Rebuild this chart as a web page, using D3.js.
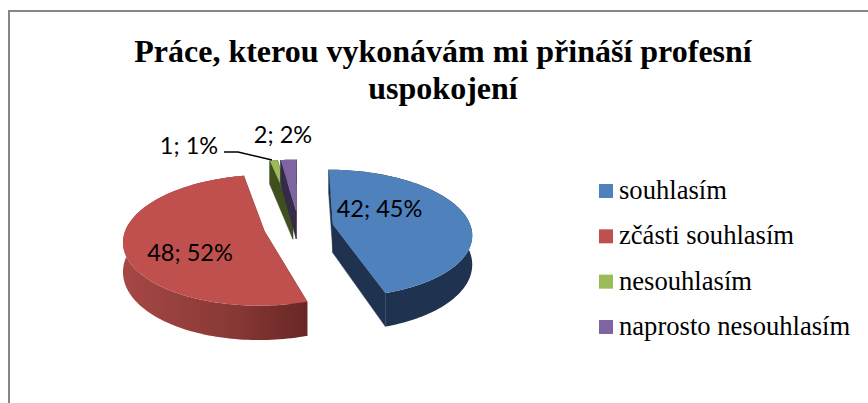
<!DOCTYPE html>
<html><head><meta charset="utf-8">
<script src="https://cdn.jsdelivr.net/npm/d3@7"></script>
<style>html,body{margin:0;padding:0;background:#fff;overflow:hidden}svg{display:block}</style>
</head><body><svg id="c" width="868" height="403"></svg>
<script>
const titleLines = ["Práce, kterou vykonávám mi přináší profesní", "uspokojení"];
const categories = ["souhlasím", "zčásti souhlasím", "nesouhlasím", "naprosto nesouhlasím"];
const values = [42, 48, 1, 2];
const percents = [45, 52, 1, 2];
const topColors = ["#4f81bd", "#c0504d", "#9bbb59", "#8064a2"];
const sideColors = ["#1f3350", "#7a2f2d", "#3f4f20", "#352a47"];

const svg = d3.select("#c");
const W = 868, H = 403;
const cx = 298.5, cy = 227, R = 138, explode = 35, tilt = 0.457, persp = 0.001, depth = 28.5;

// frame
svg.append("path").attr("d", `M9,${H}V11H${W}`).attr("fill", "none").attr("stroke", "#868686").attr("stroke-width", 2);

// title
const title = svg.append("g").attr("font-family", "'Liberation Serif'").attr("font-weight", "bold")
  .attr("font-size", 32).attr("text-anchor", "middle").attr("fill", "#000");
titleLines.forEach((t, i) => title.append("text").attr("x", 443).attr("y", 62 + i * 37).text(t));

// ground-plane projection with mild perspective
const project = (u, v, drop = 0) => {
  const s = 1 / (1 - v * persp);
  return [cx + u * s, cy + v * tilt * s + drop * depth * Math.pow(s, 1.2)];
};
const pie = d3.pie().sort(null).value(d => d)(values);
const polar = (a, r, m) => {
  const e = explode;
  return [Math.sin(m) * e + Math.sin(a) * r, -Math.cos(m) * e - Math.cos(a) * r];
};
const line = d3.line();

const defs = svg.append("defs");
const grad = defs.append("linearGradient").attr("id", "redWall").attr("gradientUnits", "userSpaceOnUse")
  .attr("x1", project(-175, 0)[0]).attr("x2", project(45, 125)[0]).attr("y1", 0).attr("y2", 0);
grad.append("stop").attr("offset", 0).attr("stop-color", "#a64744");
grad.append("stop").attr("offset", 0.5).attr("stop-color", "#863835");
grad.append("stop").attr("offset", 1).attr("stop-color", "#561d1a");

const pieG = svg.append("g");
const order = [2, 3, 0, 1];
order.forEach(i => {
  const d = pie[i];
  const m = (d.startAngle + d.endAngle) / 2;
  const n = Math.max(4, Math.ceil((d.endAngle - d.startAngle) * 40));
  const angles = d3.range(n + 1).map(k => d.startAngle + (d.endAngle - d.startAngle) * k / n);
  const rim = angles.map(a => polar(a, R, m));
  const apex = polar(0, 0, m);
  const fill = i === 1 ? "url(#redWall)" : sideColors[i];
  const drop = pts => pts.map(p => project(p[0], p[1], 1));
  const flat = pts => pts.map(p => project(p[0], p[1], 0));
  // cut walls
  [rim[0], rim[n]].forEach(p => {
    const q = [apex, p];
    pieG.append("path").attr("d", line(flat(q).concat(drop(q).reverse())) + "Z").attr("fill", sideColors[i]).attr("stroke", sideColors[i]).attr("stroke-width", .5);
  });
  // outer wall
  pieG.append("path").attr("d", line(flat(rim).concat(drop(rim).reverse())) + "Z").attr("fill", fill);
  // top
  pieG.append("path").attr("d", line(flat([apex, ...rim])) + "Z").attr("fill", topColors[i]);
});

// leader line
svg.append("path").attr("d", "M224,152H238L272,160").attr("fill", "none").attr("stroke", "#000").attr("stroke-width", 1.3);

// data labels
const labelSpots = [[379.5, 217], [190, 261], [189, 154], [283, 143]];
svg.append("g").selectAll("text").data(values).join("text")
  .attr("x", (d, i) => labelSpots[i][0]).attr("y", (d, i) => labelSpots[i][1])
  .attr("text-anchor", "middle").attr("font-family", "Lato").attr("font-size", 23.5).attr("fill", "#000")
  .text((d, i) => `${d}; ${percents[i]}%`);

// legend
const legendY = d3.scalePoint().domain(categories).range([199, 335]);
const legend = svg.append("g").selectAll("g").data(categories).join("g");
legend.append("rect").attr("x", 599).attr("y", d => legendY(d) - 15).attr("width", 14).attr("height", 14)
  .attr("fill", (d, i) => topColors[i]);
legend.append("text").attr("x", 619).attr("y", d => legendY(d))
  .attr("font-family", "'Liberation Serif'").attr("font-size", 26.6).attr("fill", "#000").text(d => d);
</script></body></html>
